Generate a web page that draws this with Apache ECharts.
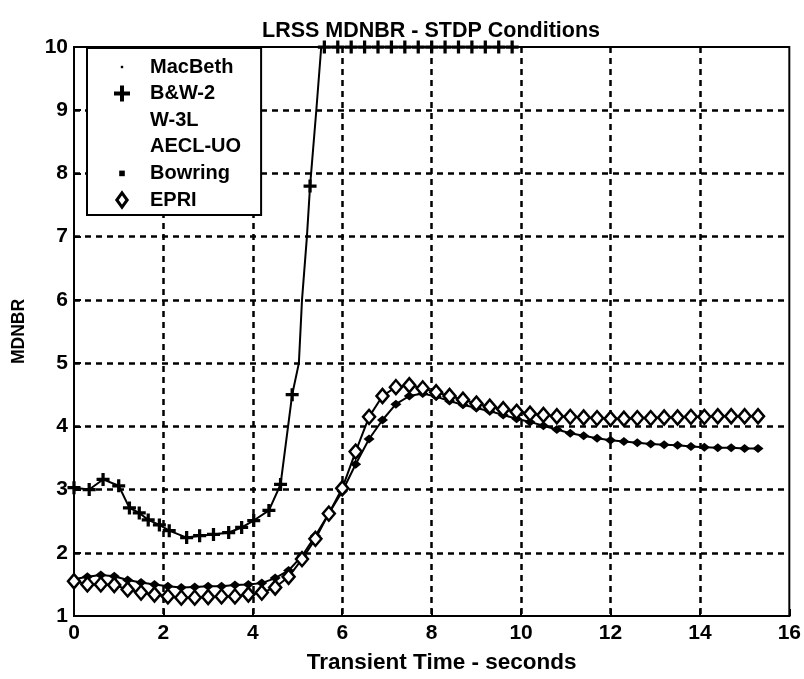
<!DOCTYPE html>
<html>
<head>
<meta charset="utf-8">
<script src="https://cdn.jsdelivr.net/npm/echarts@6/dist/echarts.min.js"></script>
<style>html,body{margin:0;padding:0;background:#fff}#c{width:804px;height:679px}</style>
</head>
<body>
<div id="c"></div>
<script>
// ---- data ----
var seriesNames = ['MacBeth', 'B&W-2', 'W-3L', 'AECL-UO', 'Bowring', 'EPRI'];

var bw2Time = [0, 0.34, 0.65, 1.0, 1.24, 1.46, 1.66, 1.91, 2.13, 2.52, 2.81, 3.12, 3.46, 3.75, 4.02, 4.36, 4.62, 4.88, 5.03, 5.1, 5.21, 5.28, 5.42, 5.53,
               5.6, 5.9, 6.2, 6.5, 6.8, 7.1, 7.4, 7.7, 8.0, 8.3, 8.6, 8.9, 9.2, 9.5, 9.8, 10.05];
var bw2Mdnbr = [3.03, 3.0, 3.16, 3.06, 2.71, 2.63, 2.52, 2.44, 2.35, 2.24, 2.27, 2.29, 2.32, 2.40, 2.51, 2.67, 3.08, 4.5, 5.0, 6.0, 7.0, 7.8, 9.0, 10.0,
                10, 10, 10, 10, 10, 10, 10, 10, 10, 10, 10, 10, 10, 10, 10, 10];
var bw2Marker = [1,1,1,1,1,1,1,1,1,1,1,1,1,1,1,1,1,1,0,0,0,1,0,0, 1,1,1,1,1,1,1,1,1,1,1,1,1,1,1,0];

var time = [0, 0.3, 0.6, 0.9, 1.2, 1.5, 1.8, 2.1, 2.4, 2.7, 3.0, 3.3, 3.6, 3.9, 4.2, 4.5, 4.8, 5.1, 5.4, 5.7,
            6.0, 6.3, 6.6, 6.9, 7.2, 7.5, 7.8, 8.1, 8.4, 8.7, 9.0, 9.3, 9.6, 9.9, 10.2, 10.5, 10.8, 11.1, 11.4, 11.7,
            12.0, 12.3, 12.6, 12.9, 13.2, 13.5, 13.8, 14.1, 14.4, 14.7, 15.0, 15.3];
var eprMdnbr = [1.55, 1.50, 1.50, 1.49, 1.42, 1.37, 1.34, 1.31, 1.29, 1.29, 1.30, 1.31, 1.31, 1.34, 1.37, 1.45, 1.62, 1.90, 2.22, 2.62,
                3.02, 3.60, 4.15, 4.48, 4.62, 4.65, 4.60, 4.54, 4.48, 4.42, 4.36, 4.31, 4.27, 4.23, 4.20, 4.18, 4.16, 4.15, 4.14, 4.13,
                4.12, 4.12, 4.13, 4.13, 4.14, 4.14, 4.15, 4.15, 4.16, 4.16, 4.16, 4.16];
var bowMdnbr = [1.58, 1.62, 1.65, 1.63, 1.57, 1.53, 1.50, 1.47, 1.45, 1.46, 1.47, 1.47, 1.49, 1.50, 1.52, 1.60, 1.72, 1.95, 2.27, 2.62,
                2.97, 3.40, 3.80, 4.10, 4.35, 4.48, 4.52, 4.47, 4.40, 4.34, 4.29, 4.24, 4.18, 4.12, 4.07, 4.01, 3.95, 3.89, 3.85, 3.81,
                3.78, 3.76, 3.74, 3.72, 3.71, 3.70, 3.68, 3.67, 3.66, 3.66, 3.65, 3.65];

var xTicks = [0, 2, 4, 6, 8, 10, 12, 14, 16];
var yTicks = [1, 2, 3, 4, 5, 6, 7, 8, 9, 10];

// ---- build ----
function pairs(xs, ys) { return xs.map(function (x, i) { return [x, ys[i]]; }); }
var FONT = '"Liberation Sans", Arial, sans-serif';
var PLUS = 'path://M4.5,0h3v4.5h4.5v3h-4.5v4.5h-3v-4.5h-4.5v-3h4.5z';
var DOT = 'path://M0,0L0,0M20,20L20,20M8.5,8.5h3v3h-3z';
var SMALLSQ = 'path://M0,0L0,0M20,20L20,20M6.5,6.5h7v7h-7z';
var DIAM = 'path://M0,0L0,0M20,20L20,20M10,1L16.5,10L10,19L3.5,10Z';

var bwData = bw2Time.map(function (x, i) {
  return { value: [x, bw2Mdnbr[i]], symbol: bw2Marker[i] ? PLUS : 'none' };
});

var chart = echarts.init(document.getElementById('c'), null, { renderer: 'canvas' });
chart.setOption({
  animation: false,
  backgroundColor: '#fff',
  textStyle: { fontFamily: FONT },
  title: {
    text: 'LRSS MDNBR - STDP Conditions',
    left: 257, top: 15,
    textStyle: { fontSize: 21.5, fontWeight: 'bold', color: '#000', fontFamily: FONT }
  },
  grid: { left: 74, right: 10, top: 47, bottom: 62, show: true, borderColor: '#000', borderWidth: 2, backgroundColor: 'transparent' },
  xAxis: {
    type: 'value', min: xTicks[0], max: xTicks[xTicks.length - 1], interval: 2,
    name: 'Transient Time - seconds', nameLocation: 'middle', nameGap: 35,
    nameTextStyle: { fontSize: 22.5, fontWeight: 'bold', color: '#000', fontFamily: FONT, padding: [0, 0, 0, 20] },
    axisLine: { show: true, lineStyle: { color: '#000', width: 2 } },
    axisTick: { show: true, inside: true, length: 7, lineStyle: { color: '#000', width: 2 } },
    axisLabel: { fontSize: 21, fontWeight: 'bold', color: '#000', margin: 7, fontFamily: FONT },
    splitLine: { show: true, showMinLine: false, showMaxLine: false, lineStyle: { color: '#000', width: 2.5, type: [6, 5] } }
  },
  yAxis: {
    type: 'value', min: yTicks[0], max: yTicks[yTicks.length - 1], interval: 1,
    name: 'MDNBR', nameLocation: 'middle', nameGap: 46, nameRotate: 90,
    nameTextStyle: { fontSize: 17.5, fontWeight: 'bold', color: '#000', fontFamily: FONT },
    axisLine: { show: true, lineStyle: { color: '#000', width: 2 } },
    axisTick: { show: true, inside: true, length: 7, lineStyle: { color: '#000', width: 2 } },
    axisLabel: { fontSize: 21, fontWeight: 'bold', color: '#000', margin: 6, fontFamily: FONT },
    splitLine: { show: true, showMinLine: false, showMaxLine: false, lineStyle: { color: '#000', width: 2.5, type: [6, 5] } }
  },
  legend: {
    orient: 'vertical', left: 87, top: 48,
    backgroundColor: '#fff', borderColor: '#000', borderWidth: 2, borderRadius: 0,
    padding: [8, 20, 4, 12], itemGap: 4.6, itemWidth: 46, itemHeight: 16,
    textStyle: { fontSize: 20, fontWeight: 'bold', color: '#000', lineHeight: 22, fontFamily: FONT },
    data: [
      { name: seriesNames[0], icon: DOT, itemStyle: { color: '#000' } },
      { name: seriesNames[1], icon: PLUS, itemStyle: { color: '#000' } },
      { name: seriesNames[2], icon: 'none' },
      { name: seriesNames[3], icon: 'none' },
      { name: seriesNames[4], icon: SMALLSQ, itemStyle: { color: '#000' } },
      { name: seriesNames[5], icon: DIAM, itemStyle: { color: '#fff', borderColor: '#000', borderWidth: 3 } }
    ]
  },
  series: [
    { name: seriesNames[0], type: 'line', data: [], symbol: 'circle', symbolSize: 3, itemStyle: { color: '#000' }, lineStyle: { color: '#000', width: 2 } },
    { name: seriesNames[1], type: 'line', data: bwData, showAllSymbol: true, symbolSize: [13, 13],
      itemStyle: { color: '#000' }, lineStyle: { color: '#000', width: 2 }, z: 3 },
    { name: seriesNames[2], type: 'line', data: [], symbol: 'none', itemStyle: { color: '#000' }, lineStyle: { color: '#000', width: 2 } },
    { name: seriesNames[3], type: 'line', data: [], symbol: 'none', itemStyle: { color: '#000' }, lineStyle: { color: '#000', width: 2 } },
    { name: seriesNames[4], type: 'line', data: pairs(time, bowMdnbr), showAllSymbol: true, symbol: 'diamond', symbolSize: [11, 9],
      itemStyle: { color: '#000' }, lineStyle: { color: '#000', width: 2 }, z: 3 },
    { name: seriesNames[5], type: 'line', data: pairs(time, eprMdnbr), showAllSymbol: true, symbol: 'diamond', symbolSize: [12, 14],
      itemStyle: { color: '#fff', borderColor: '#000', borderWidth: 2.5 }, lineStyle: { color: '#000', width: 2 }, z: 4 }
  ]
});
</script>
</body>
</html>
